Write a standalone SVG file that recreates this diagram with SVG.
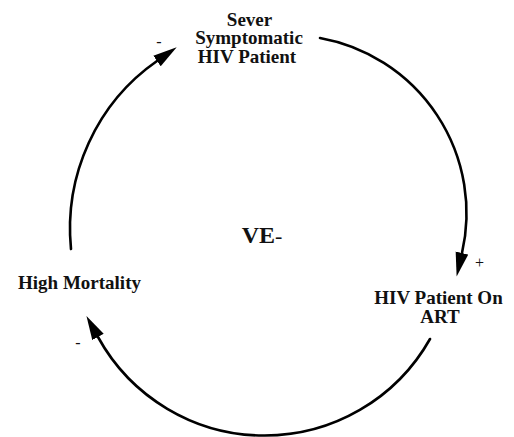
<svg xmlns="http://www.w3.org/2000/svg" width="514" height="437" viewBox="0 0 514 437">
<style>
.lbl{font-family:"Liberation Serif","Times New Roman",serif;font-weight:bold;font-size:19px;fill:#111;text-anchor:middle}
.sign{font-family:"Liberation Serif","Times New Roman",serif;font-size:16px;fill:#111;text-anchor:middle}
.link{fill:none;stroke:#000;stroke-width:2.6;stroke-linecap:round}
</style>
<defs>
<marker id="ah" markerUnits="userSpaceOnUse" markerWidth="26" markerHeight="14" refX="0" refY="6.5" orient="auto">
<path d="M0,0 L24,6.5 L0,13 z" fill="#000"/>
</marker>
</defs>
<rect width="514" height="437" fill="#fff"/>
<g id="connectors">
<path class="link" d="M320,38 A178,178 0 0 1 462,253" marker-end="url(#ah)"/>
<path class="link" d="M430,339 A190,190 0 0 1 98,337" marker-end="url(#ah)"/>
<path class="link" d="M71,249 A199,203 0 0 1 157,61" marker-end="url(#ah)"/>
<text class="sign" x="479.5" y="268">+</text>
<text class="sign" x="159" y="47">-</text>
<text class="sign" x="78" y="348">-</text>
</g>
<g id="node-sever">
<text class="lbl" x="249.5" y="26">Sever</text>
<text class="lbl" x="249" y="44">Symptomatic</text>
<text class="lbl" x="247" y="62.5">HIV Patient</text>
</g>
<g id="node-art">
<text class="lbl" x="438.5" y="304">HIV Patient On</text>
<text class="lbl" x="440" y="322.7">ART</text>
</g>
<g id="node-mortality">
<text class="lbl" x="79.5" y="289">High Mortality</text>
</g>
<g id="loop-label">
<text x="241.7" y="243.3" style="font-family:'Liberation Serif','Times New Roman',serif;font-size:24px;fill:#111"><tspan font-weight="bold">VE</tspan><tspan font-size="22">-</tspan></text>
</g>
</svg>
